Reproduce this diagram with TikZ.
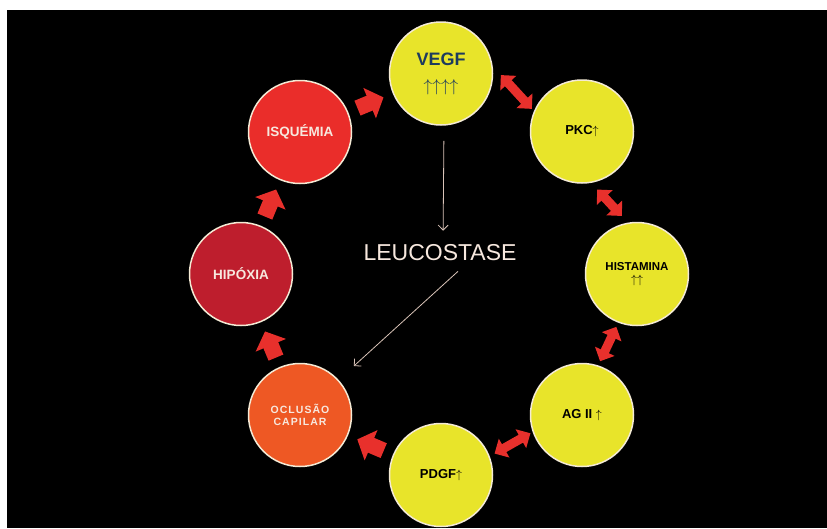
\documentclass[tikz,border=0pt]{standalone}
\usepackage{fontspec}
\setmainfont{Liberation Sans}
\usepackage{tikz}
\usetikzlibrary{arrows.meta}
\definecolor{CircYellow}{HTML}{E8E42A}
\definecolor{IsqRed}{HTML}{EA2D2A}
\definecolor{HipRed}{HTML}{BE1E2D}
\definecolor{OclOrange}{HTML}{EE5824}
\definecolor{ArrowRed}{HTML}{E8302C}
\definecolor{RimCream}{HTML}{F4EAD5}
\definecolor{LabelWhite}{HTML}{F7E8DE}
\definecolor{LineCream}{HTML}{D9C3B8}
\definecolor{VegfBlue}{HTML}{1D3B5E}
\newcommand{\upar}{$\uparrow$}

\begin{document}
\begin{tikzpicture}[
    x=1pt, y=-1pt,
    circ/.style={circle, draw=RimCream, line width=1.5pt, minimum size=103pt, inner sep=0pt,
      align=center, font=\bfseries\fontsize{13}{15}\selectfont},
    yel/.style={circ, fill=CircYellow, text=black},
    redc/.style={circ, text=LabelWhite, font=\bfseries\fontsize{13.5}{15}\selectfont},
    fat/.style={-{Triangle[length=15pt,width=32pt]}, line width=16pt, draw=ArrowRed,
      shorten <=10pt, shorten >=10pt},
    dbl/.style={{Triangle[length=11pt,width=21pt]}-{Triangle[length=11pt,width=21pt]},
      line width=9pt, draw=ArrowRed},
    thinarr/.style={-{Straight Barb[length=5pt,width=10pt]}, line width=0.8pt, draw=LineCream}
  ]
    \fill[white] (0,0) rectangle (827,528);
    \fill[black] (7,10) rectangle (827,528);

    \node[yel, text=VegfBlue, font=\bfseries\fontsize{18}{26}\selectfont] (vegf) at (441,73.5)
      {VEGF\\{\fontsize{17}{26}\selectfont\upar\upar\upar\upar}};
    \node[yel] (pkc) at (582,131.5) {PKC\upar};
    \node[yel, font=\bfseries\fontsize{11.5}{13}\selectfont] (hist) at (637,274) {HISTAMINA\\\upar\upar};
    \node[yel] (agii) at (582,415) {AG II \upar};
    \node[yel] (pdgf) at (441,475) {PDGF\upar};
    \node[redc, fill=OclOrange, font=\bfseries\fontsize{10.5}{12.5}\selectfont\addfontfeature{LetterSpace=10}]
      (ocl) at (300,415) {OCLUSÃO\\CAPILAR};
    \node[redc, fill=HipRed] (hip) at (241,274) {HIPÓXIA};
    \node[redc, fill=IsqRed] (isq) at (300,132) {ISQUÉMIA};

    \node[inner sep=0pt, text=LabelWhite, font=\fontsize{23}{27}\selectfont] (leuco) at (440,253) {LEUCOSTASE};

    \draw[dbl, shorten <=12pt, shorten >=3pt] (vegf.8) -- (pkc.157);
    \draw[dbl, shorten <=9pt, shorten >=9pt] (pkc.-80) -- (hist.100);
    \draw[dbl, shorten <=4.5pt, shorten >=4.5pt] (hist.-111) -- (agii.72);
    \draw[dbl, shorten <=2.5pt, shorten >=5.5pt] (agii.-161) -- (pdgf.21);

    \draw[fat] (pdgf) -- (ocl);
    \draw[fat] (ocl) -- (hip);
    \draw[fat] (hip) -- (isq);
    \draw[fat] (isq) -- (vegf);

    \draw[thinarr, shorten <=15pt, shorten >=14pt] ([xshift=3pt]vegf.south) -- ([xshift=3pt]leuco.north);
    \draw[thinarr, shorten >=20.5pt] ([xshift=18pt,yshift=-10pt]leuco.south) -- (ocl);
  \end{tikzpicture}
\end{document}
